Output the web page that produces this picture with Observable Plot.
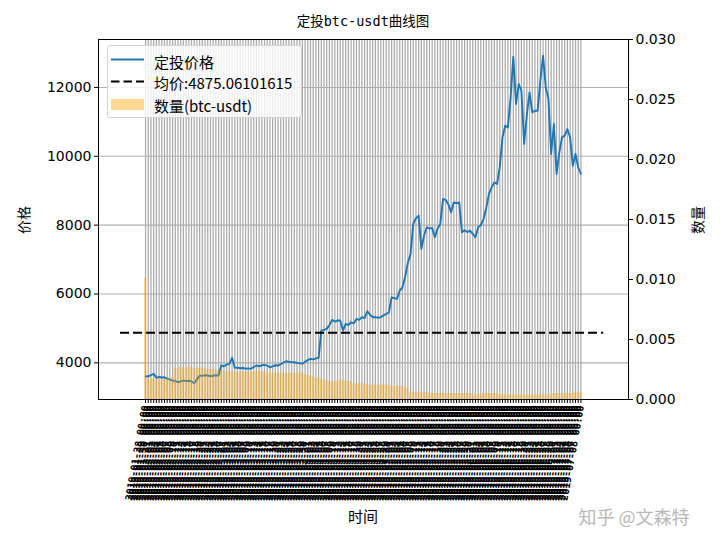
<!DOCTYPE html>
<html><head><meta charset="utf-8">
<script src="https://cdn.jsdelivr.net/npm/d3@7"></script>
<script src="https://cdn.jsdelivr.net/npm/@observablehq/plot@0.6"></script>
<style>
body{margin:0;background:#fff;}
#wrap{position:relative;width:720px;height:540px;background:#fff;overflow:hidden;}
#wrap svg{position:absolute;left:0;top:0;}
.t{position:absolute;font-family:"Noto Sans CJK SC",sans-serif;color:#000;white-space:nowrap;line-height:1;}
</style></head><body>
<div id="wrap"></div>
<script>
// ---- data ----
const prices = [
3603,3610,3640,3680,3565,3590,3575,3580,3540,3510,
3486,3470,3437,3460,3486,3470,3480,3457,3408,3520,
3631,3620,3640,3631,3610,3625,3640,3631,3922,3900,
3950,3971,4145,3855,3860,3843,3850,3830,3840,3826,
3880,3922,3900,3930,3942,3920,3872,3900,3930,3922,
3960,4010,4046,4030,4020,4017,4000,3990,3971,4030,
4080,4116,4100,4130,4145,4938,4960,4987,5100,5248,
5200,5230,5228,4938,5132,5100,5178,5150,5277,5250,
5324,5300,5498,5400,5324,5330,5310,5324,5380,5420,
5469,5904,5880,5858,6098,6195,6500,6900,7164,8035,
8200,8276,7309,7700,7936,7900,7919,7646,7900,8035,
8761,8732,8600,8372,8662,8640,8662,7791,7850,7800,
7840,7750,7646,7936,8000,8180,8500,8906,9100,9243,
9196,9700,10549,10889,10840,11700,12892,11519,12099,11905,
10358,11200,11856,11275,11324,11324,12200,12921,12001,11664,
10067,10937,9486,10100,10549,10600,10792,10549,9727,10067,
9679,9486];
const quantities = [
0.0101,0.0017,0.0017,0.0017,0.0016,0.0017,0.0017,0.0017,0.0017,0.0018,
0.0018,0.0026,0.0026,0.0027,0.0026,0.0026,0.0027,0.0027,0.0026,0.0026,
0.0026,0.0026,0.0026,0.0025,0.0025,0.0025,0.0025,0.0024,0.0024,0.0024,
0.0023,0.0023,0.0023,0.0023,0.0023,0.0023,0.0023,0.0023,0.0023,0.0023,
0.0023,0.0023,0.0023,0.0023,0.0023,0.0023,0.0022,0.0022,0.0022,0.0022,
0.0022,0.0022,0.0022,0.0022,0.0022,0.0022,0.0022,0.0022,0.0022,0.0021,
0.0020,0.0020,0.0019,0.0018,0.0018,0.0017,0.0016,0.0016,0.0015,0.0015,
0.0015,0.0015,0.0016,0.0016,0.0016,0.0015,0.0015,0.0013,0.0013,0.0013,
0.0013,0.0013,0.0012,0.0012,0.0012,0.0012,0.0012,0.0012,0.0012,0.0012,
0.0012,0.0011,0.0011,0.0011,0.0011,0.0011,0.0010,0.0009,0.0006,0.0006,
0.0006,0.0006,0.0006,0.0006,0.0006,0.0005,0.0005,0.0005,0.0005,0.0005,
0.0005,0.0005,0.0005,0.0005,0.0005,0.0005,0.0005,0.0005,0.0005,0.0005,
0.0005,0.0005,0.0004,0.0004,0.0004,0.0005,0.0005,0.0005,0.0005,0.0005,
0.0005,0.0004,0.0004,0.0004,0.0004,0.0004,0.0004,0.0004,0.0004,0.0004,
0.0004,0.0004,0.0004,0.0004,0.0004,0.0004,0.0004,0.0004,0.0004,0.0004,
0.0004,0.0005,0.0005,0.0005,0.0005,0.0005,0.0005,0.0005,0.0005,0.0006,
0.0006,0.0006];
const avgPrice = 4875.06101615;
const avgLineSpan = [-9.25, 169.4];          // index units covered by the dashed mean line
const startDate = "2019-01-28";               // first DCA timestamp (labels are illegible in the reference)
const priceTicks = [4000, 6000, 8000, 10000, 12000];
const qtyTicks = [0, 0.005, 0.010, 0.015, 0.020, 0.025, 0.030];
const titleText = "定投btc-usdt曲线图";
const legendLabels = ["定投价格", "均价:" + avgPrice, "数量(btc-usdt)"];
const yLabelLeft = "价格", yLabelRight = "数量", xLabel = "时间";
const watermark = "知乎 @文森特";

// ---- chart ----
const idx = d3.range(prices.length);
const fmt = d3.utcFormat("%Y-%m-%d %H:%M");
const t0 = d3.utcParse("%Y-%m-%d")(startDate);
const labels = idx.map(i => fmt(d3.utcDay.offset(t0, i)));

const W = 720, H = 540, mL = 98, mR = 92, mT = 39, mB = 141;
const xDomain = [-17.4, 178.6];
const baseStyle = {background: "transparent", fontFamily: "DejaVu Sans", fontSize: "14px", color: "#000", overflow: "visible"};

const p1 = Plot.plot({
  width: W, height: H, marginLeft: mL, marginRight: mR, marginTop: mT, marginBottom: mB,
  style: baseStyle,
  x: {type: "linear", domain: xDomain},
  y: {domain: [2935, 13393]},
  marks: [
    Plot.gridY(priceTicks, {stroke: "#b0b0b0", strokeOpacity: 1, strokeWidth: 1.1}),
    Plot.ruleX(idx, {x: d => d, stroke: "#aaaaaa", strokeOpacity: 1, strokeWidth: 1.25}),
    Plot.lineY(prices, {x: (d, i) => i, y: d => d, stroke: "#1f77b4", strokeWidth: 1.9}),
    Plot.ruleY([avgPrice], {x1: () => avgLineSpan[0], x2: () => avgLineSpan[1], stroke: "#000", strokeWidth: 2, strokeDasharray: "9,4"}),
    Plot.axisY(priceTicks, {tickSize: 4, tickPadding: 3, label: null, fontSize: 14, tickFormat: d => String(d)}),
    Plot.axisX(idx, {tickSize: 4, tickPadding: 2, tickRotate: -80, tickFormat: i => labels[i], label: null, fontSize: 10, fontWeight: "bold", fontFamily: "DejaVu Sans Mono"}),
    Plot.frame({stroke: "#000", strokeWidth: 1})
  ]
});

const p2 = Plot.plot({
  width: W, height: H, marginLeft: mL, marginRight: mR, marginTop: mT, marginBottom: mB,
  style: baseStyle,
  x: {type: "linear", domain: xDomain, axis: null},
  y: {domain: [0, 0.03]},
  marks: [
    Plot.rectY(quantities, {x1: (d, i) => i - 0.4, x2: (d, i) => i + 0.4, y1: () => 0, y2: d => d, fill: "orange", fillOpacity: 0.42}),
    Plot.axisY(qtyTicks, {anchor: "right", tickSize: 4, tickPadding: 3, tickFormat: d3.format(".3f"), label: null, fontSize: 14})
  ]
});

const wrap = document.getElementById("wrap");
wrap.appendChild(p1);
wrap.appendChild(p2);

function addText(txt, x, y, size, extra) {
  const d = document.createElement("div");
  d.className = "t";
  d.textContent = txt;
  d.style.left = x + "px";
  d.style.top = y + "px";
  d.style.fontSize = size + "px";
  d.style.transform = "translate(-50%,-50%)" + (extra || "");
  wrap.appendChild(d);
  return d;
}
const tt = addText(titleText, 363, 22, 13.5);
tt.style.fontFamily = '"DejaVu Sans Mono","Noto Sans CJK SC",monospace';
addText(yLabelLeft, 23, 220, 14, " rotate(-90deg)");
addText(yLabelRight, 697, 220, 14, " rotate(-90deg)");
addText(xLabel, 363, 515, 15);
const wm = addText(watermark, 634, 516, 18);
wm.style.color = "#b8b8b8";
wm.style.textShadow = "0 0 1px #fff";

// legend
const lg = document.createElement("div");
lg.style.cssText = "position:absolute;left:107px;top:45px;width:195px;height:73px;background:rgba(255,255,255,0.8);border:1px solid #d3d3d3;border-radius:3px;box-sizing:border-box;";
wrap.appendChild(lg);
const sw = d3.create("svg").attr("width", 195).attr("height", 73).style("position", "absolute").style("left", "-1px").style("top", "-1px");
sw.append("line").attr("x1", 4).attr("x2", 37).attr("y1", 14.5).attr("y2", 14.5).attr("stroke", "#1f77b4").attr("stroke-width", 1.9);
sw.append("line").attr("x1", 4).attr("x2", 37).attr("y1", 36.5).attr("y2", 36.5).attr("stroke", "#000").attr("stroke-width", 2).attr("stroke-dasharray", "8.5,4");
sw.append("rect").attr("x", 4).attr("y", 54).attr("width", 33).attr("height", 11).attr("fill", "orange").attr("fill-opacity", 0.42);
lg.appendChild(sw.node());
legendLabels.forEach((s, k) => {
  const d = document.createElement("div");
  d.className = "t";
  d.textContent = s;
  d.style.left = "46px";
  d.style.top = [15, 36, 59][k] + "px";
  d.style.fontSize = "15px";
  d.style.transform = "translate(0,-50%)";
  lg.appendChild(d);
});
</script>
</body></html>
